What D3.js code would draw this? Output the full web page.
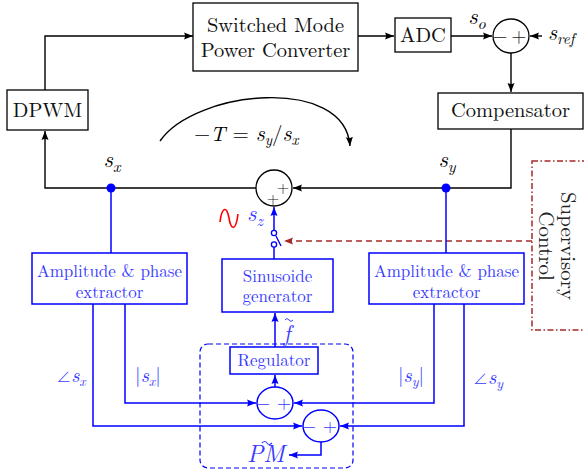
<!DOCTYPE html>
<html><head><meta charset="utf-8">
<script src="https://cdn.jsdelivr.net/npm/d3@7"></script>
<style>body{margin:0;background:#fff}svg{display:block}</style>
</head><body>
<script>
// ---- content ----
const mainBlocks = [["Switched Mode", "Power Converter"], ["ADC"], ["Compensator"], ["DPWM"]];
const blueBlocks = [["Amplitude & phase", "extractor"], ["Sinusoide", "generator"], ["Amplitude & phase", "extractor"], ["Regulator"]];
const supervisoryText = ["Supervisory", "Control"];
const signalLabels = [["s", "o"], ["s", "ref"], ["s", "x"], ["s", "y"], ["s", "z"]];
const magPhaseLabels = [["∠s", "x"], ["|s", "x", "|"], ["|s", "y", "|"], ["∠s", "y"]];
const sumSigns = [["−", "+"], ["+", "+"]];

const BLACK = "#000", BLUE = "#0000ff", BLUET = "#3a3aff", DRED = "#a52a2a";
const FONT = '"Latin Modern Roman"';

const svg = d3.select("body").append("svg").attr("width", 584).attr("height", 474);
const defs = svg.append("defs");
function marker(id, col) {
  defs.append("marker").attr("id", id).attr("markerUnits", "userSpaceOnUse")
    .attr("markerWidth", 10).attr("markerHeight", 8).attr("refX", 9).attr("refY", 4)
    .attr("orient", "auto")
    .append("path").attr("d", "M0,0.5 L9,4 L0,7.5 Q2,4 0,0.5 Z").attr("fill", col);
}
marker("aK", BLACK); marker("aB", BLUE); marker("aR", DRED);

function wire(pts, col, arrow, dash, w) {
  const p = svg.append("path").attr("d", d3.line()(pts)).attr("fill", "none")
    .attr("stroke", col).attr("stroke-width", w || 1.4).attr("stroke-linejoin", "miter");
  if (arrow) p.attr("marker-end", `url(#${arrow})`);
  if (dash) p.attr("stroke-dasharray", dash);
  return p;
}
function txt(x, y, size, col, anchor) {
  return svg.append("text").attr("x", x).attr("y", y).style("font-family", FONT).style("font-size", size + "px")
    .attr("fill", col).attr("text-anchor", anchor || "middle");
}
function box(x0, y0, x1, y1, col, lines, size, baselines) {
  svg.append("rect").attr("x", x0).attr("y", y0).attr("width", x1 - x0).attr("height", y1 - y0)
    .attr("fill", "#fff").attr("stroke", col).attr("stroke-width", col === BLACK ? 1.3 : 1.5);
  lines.forEach((t, i) => txt((x0 + x1) / 2, baselines[i], size, col === BLACK ? "#111" : BLUET).text(t));
}
function mathLabel(x, y, parts, size, col, anchor) {
  const t = txt(x, y, size, col, anchor);
  const m = parts[0].match(/^([^a-zA-Z]*)(.*)$/);
  if (m[1] === "∠") t.append("tspan").style("font-family", '"Noto Sans CJK JP"').style("font-weight", "300")
    .style("font-size", (size * 0.75) + "px").text(m[1]);
  else if (m[1]) t.append("tspan").text(m[1]);
  t.append("tspan").style("font-style", "italic").text(m[2]);
  t.append("tspan").style("font-style", "italic").style("font-size", (size * 0.7) + "px").attr("dy", size * 0.2).text(parts[1]);
  if (parts[2]) t.append("tspan").attr("dy", -size * 0.2).text(parts[2]);
  return t;
}
function sumNode(cx, cy, rx, ry, col, signs, pos, size) {
  svg.append("ellipse").attr("cx", cx).attr("cy", cy).attr("rx", rx).attr("ry", ry)
    .attr("fill", "#fff").attr("stroke", col).attr("stroke-width", col === BLACK ? 1.3 : 1.5);
  signs.forEach((s, i) => txt(cx + pos[i][0], cy + pos[i][1], size, col === BLACK ? "#222" : BLUET).text(s));
}

// ---- black main loop ----
wire([[45, 90], [45, 36], [193, 36]], BLACK, "aK");
wire([[358, 36], [394, 36]], BLACK, "aK");
wire([[451, 36], [492, 36]], BLACK, "aK");
wire([[542, 36], [530, 36]], BLACK, "aK");
wire([[511, 53], [511, 92]], BLACK, "aK");
wire([[511, 129], [511, 188], [293, 188]], BLACK, "aK");
wire([[256, 188], [45, 188], [45, 131]], BLACK, "aK");

box(193, 3, 358, 71, BLACK, mainBlocks[0], 20.5, [32, 57]);
box(395, 18, 451, 52, BLACK, mainBlocks[1], 20.5, [42]);
box(438, 93, 583, 129, BLACK, mainBlocks[2], 20.5, [117]);
box(7, 90, 88, 130, BLACK, mainBlocks[3], 20.5, [117]);

sumNode(511, 36, 18, 17, BLACK, sumSigns[0], [[-11, 6], [8, 6]], 19);
sumNode(274, 188, 18, 18, BLACK, sumSigns[1], [[9, 5], [-1, 16]], 16);

mathLabel(477, 24, signalLabels[0], 23, BLACK);
mathLabel(548, 40, signalLabels[1], 22, BLACK, "start");
mathLabel(112, 167, signalLabels[2], 23, BLACK);
mathLabel(447, 167, signalLabels[3], 23, BLACK);

// loop gain arc
svg.append("path").attr("d", "M160,141 C195,90 345,75 350,146").attr("fill", "none")
  .attr("stroke", BLACK).attr("stroke-width", 1.4).attr("marker-end", "url(#aK)");
{
  const t = txt(194, 141, 21, BLACK, "start");
  t.append("tspan").text("−");
  t.append("tspan").style("font-style", "italic").text("T");
  t.append("tspan").text(" = ");
  t.append("tspan").style("font-style", "italic").style("font-size", "22px").text("s");
  t.append("tspan").style("font-style", "italic").style("font-size", "15px").attr("dy", 4).text("y");
  t.append("tspan").attr("dy", -4).text("/");
  t.append("tspan").style("font-style", "italic").style("font-size", "22px").text("s");
  t.append("tspan").style("font-style", "italic").style("font-size", "15px").attr("dy", 4).text("x");
}

// ---- supervisory control ----
svg.append("rect").attr("x", 532).attr("y", 161).attr("width", 70).attr("height", 169)
  .attr("fill", "none").attr("stroke", DRED).attr("stroke-width", 1.5).attr("stroke-dasharray", "6 2.5 1.5 2.5");
supervisoryText.forEach((s, i) => txt(0, 0, 21, "#222")
  .attr("transform", `translate(${561 - i * 22},246) rotate(90)`).text(s));
wire([[532, 241], [284, 241]], DRED, "aR", "6 4", 1.4);

// ---- blue perturbation path ----
svg.append("circle").attr("cx", 111).attr("cy", 188).attr("r", 4.5).attr("fill", BLUE);
svg.append("circle").attr("cx", 446).attr("cy", 188).attr("r", 4.5).attr("fill", BLUE);
wire([[111, 188], [111, 253]], BLUE, null, null, 1.5);
wire([[446, 188], [446, 253]], BLUE, null, null, 1.5);

// switch
wire([[274, 230], [274, 207]], BLUE, "aB", null, 1.5);
wire([[274, 247], [274, 259]], BLUE, null, null, 1.5);
svg.append("circle").attr("cx", 274).attr("cy", 233).attr("r", 2.6).attr("fill", "#fff").attr("stroke", BLUE).attr("stroke-width", 1.3);
svg.append("circle").attr("cx", 274).attr("cy", 244.5).attr("r", 2.6).attr("fill", "#fff").attr("stroke", BLUE).attr("stroke-width", 1.3);
wire([[276, 236], [281, 246]], BLUE, null, null, 1.4);

svg.append("path").attr("d", "M220,222 C222,206 227,206 229,218 C231,231 236,231 238,214")
  .attr("fill", "none").attr("stroke", "#ff0000").attr("stroke-width", 1.6);
mathLabel(247, 221, signalLabels[4], 23, BLUET, "start");

// extractor outputs
wire([[93, 304], [93, 426], [302, 426]], BLUE, "aB", null, 1.5);
wire([[125, 304], [125, 403], [256, 403]], BLUE, "aB", null, 1.5);
wire([[434, 304], [434, 403], [294, 403]], BLUE, "aB", null, 1.5);
wire([[464, 304], [464, 426], [340, 426]], BLUE, "aB", null, 1.5);
wire([[275, 387], [275, 375]], BLUE, "aB", null, 1.5);
wire([[275, 347], [275, 313]], BLUE, "aB", null, 1.5);
wire([[321, 442], [321, 455], [289, 455]], BLUE, "aB", null, 1.5);

box(32, 253, 187, 304, BLUE, blueBlocks[0], 17, [277, 298]);
box(222, 259, 333, 312, BLUE, blueBlocks[1], 17, [282, 302]);
box(369, 253, 524, 304, BLUE, blueBlocks[2], 17, [277, 298]);
box(230, 347, 318, 374, BLUE, blueBlocks[3], 17, [366]);

sumNode(275, 403, 18, 16, BLUE, sumSigns[0], [[-12, 6], [9, 6]], 18);
sumNode(321, 426, 18, 16, BLUE, sumSigns[0], [[-12, 6], [9, 6]], 18);

// PM module boundary
svg.append("rect").attr("x", 200).attr("y", 344).attr("width", 153).attr("height", 124).attr("rx", 8)
  .attr("fill", "none").attr("stroke", BLUE).attr("stroke-width", 1.2).attr("stroke-dasharray", "5 3");

mathLabel(71, 382, magPhaseLabels[0], 20, BLUET);
mathLabel(148, 382, magPhaseLabels[1], 20, BLUET);
mathLabel(411, 382, magPhaseLabels[2], 20, BLUET);
mathLabel(488, 384, magPhaseLabels[3], 20, BLUET);

// f tilde
txt(287, 341, 23, BLUET).style("font-style", "italic").text("f");
svg.append("path").attr("d", "M285,320 q2,-3 4,0 t4,0").attr("fill", "none").attr("stroke", BLUET).attr("stroke-width", 1);
// PM tilde
txt(266, 462, 24, BLUET).style("font-style", "italic").text("PM");
svg.append("path").attr("d", "M262,443 q3,-3 5,0 t5,0").attr("fill", "none").attr("stroke", BLUET).attr("stroke-width", 1.1);
</script>
</body></html>
